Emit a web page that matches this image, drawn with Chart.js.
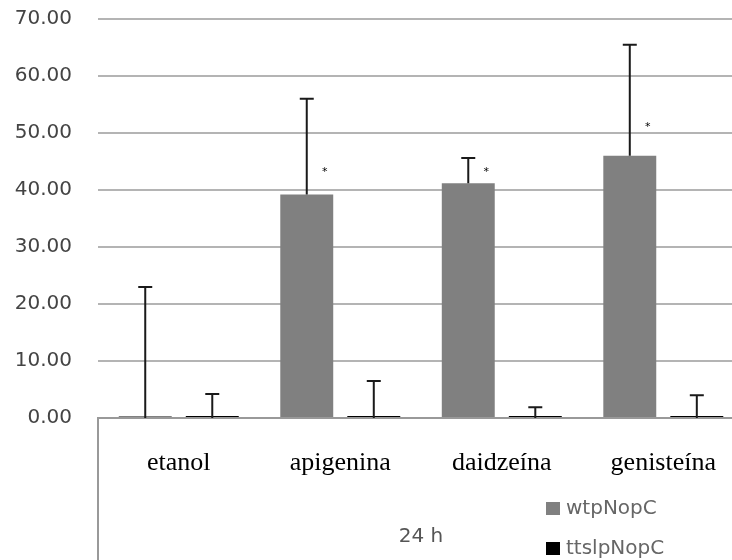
<!DOCTYPE html>
<html>
<head>
<meta charset="utf-8">
<script src="https://cdn.jsdelivr.net/npm/chart.js@4.4.1/dist/chart.umd.min.js"></script>
<style>
    body { margin: 0; overflow: hidden; background: #fff; }
    #box { width: 746px; height: 560px; }
</style>
</head>
<body>
<div id="box"><canvas id="grafico"></canvas></div>
<script>
let categorias = ["etanol", "apigenina", "daidzeína", "genisteína"];
let nomesSeries = ["wtpNopC", "ttslpNopC"];
let wtMedia = [0, 39.2, 41.2, 46.0];
let wtErro = [23.0, 16.8, 4.4, 19.5];
let ttsMedia = [0, 0, 0, 0];
let ttsErro = [4.2, 6.5, 1.9, 4.0];
let marcas = [null, 43.5, 43.5, 51.4];
let yTicks = [0, 10, 20, 30, 40, 50, 60, 70];
let tituloX = "24 h";

let coresSeries = ["#808080", "#000000"];

// fundo branco atras das marcas de significancia
const fundoMarcas = {
    id: "fundoMarcas",
    beforeDatasetsDraw(chart) {
        let ctx = chart.ctx;
        let y = chart.scales.y;
        let meta = chart.getDatasetMeta(0);
        ctx.save();
        ctx.fillStyle = "#fff";
        marcas.forEach((v, j) => {
            if (v == null) return;
            let px = meta.data[j].x + 18;
            let py = y.getPixelForValue(v);
            ctx.fillRect(px - 9, py - 7, 18, 14);
        });
        ctx.restore();
    }
};

const barrasErro = {
    id: "barrasErro",
    afterDatasetsDraw(chart) {
        let ctx = chart.ctx;
        let y = chart.scales.y;
        ctx.save();
        ctx.strokeStyle = "#1a1a1a";
        ctx.lineWidth = 2;
        chart.data.datasets.forEach((ds, i) => {
            let meta = chart.getDatasetMeta(i);
            meta.data.forEach((bar, j) => {
                let base = y.getPixelForValue(ds.data[j]);
                let topo = y.getPixelForValue(ds.data[j] + ds.erros[j]);
                ctx.beginPath();
                ctx.moveTo(bar.x, base);
                ctx.lineTo(bar.x, topo);
                ctx.moveTo(bar.x - 7, topo);
                ctx.lineTo(bar.x + 7, topo);
                ctx.stroke();
            });
        });
        // marcas
        let meta = chart.getDatasetMeta(0);
        ctx.fillStyle = "#000";
        ctx.font = "11px 'DejaVu Sans'";
        ctx.textAlign = "center";
        ctx.textBaseline = "middle";
        marcas.forEach((v, j) => {
            if (v == null) return;
            ctx.fillText("*", meta.data[j].x + 18, y.getPixelForValue(v) + 2);
        });
        ctx.restore();
    }
};

const legendaExcel = {
    id: "legendaExcel",
    afterDraw(chart) {
        let ctx = chart.ctx;
        let area = chart.chartArea;
        ctx.save();
        // linha vertical do eixo de categorias
        ctx.strokeStyle = "#999";
        ctx.lineWidth = 2;
        ctx.beginPath();
        ctx.moveTo(area.left, area.bottom);
        ctx.lineTo(area.left, chart.height);
        ctx.stroke();

        ctx.font = "20px 'DejaVu Sans'";
        ctx.textBaseline = "middle";
        ctx.textAlign = "left";
        chart.data.datasets.forEach((ds, i) => {
            let yy = 509 + i * 40;
            ctx.fillStyle = ds.backgroundColor;
            ctx.fillRect(546, yy - 7, 14, 13);
            ctx.fillStyle = "#666";
            ctx.fillText(ds.label, 566, yy);
        });
        ctx.restore();
    }
};

window.onload = () => {
    new Chart("grafico", {
        type: "bar",
        data: {
            labels: categorias,
            datasets: [
                { label: nomesSeries[0], data: wtMedia, erros: wtErro, backgroundColor: coresSeries[0] },
                { label: nomesSeries[1], data: ttsMedia, erros: ttsErro, backgroundColor: coresSeries[1] }
            ]
        },
        options: {
            responsive: true,
            maintainAspectRatio: false,
            animation: false,
            layout: { padding: { top: 19, right: 0, bottom: 0, left: 0 } },
            datasets: {
                bar: { categoryPercentage: 0.83, barPercentage: 0.79, minBarLength: 2 }
            },
            plugins: {
                legend: { display: false },
                tooltip: { enabled: false }
            },
            scales: {
                x: {
                    grid: { display: false, drawTicks: false },
                    border: { display: true, color: "#999", width: 2 },
                    ticks: { color: "#000", padding: 30, maxRotation: 0, font: { family: "'Liberation Serif'", size: 26 } },
                    title: { display: true, text: tituloX, color: "#555", font: { family: "'DejaVu Sans'", size: 20 }, padding: { top: 0, bottom: 11 } },
                    afterFit: (scale) => { scale.height = 142; }
                },
                y: {
                    min: 0,
                    max: 70,
                    afterBuildTicks: (scale) => { scale.ticks = yTicks.map(v => ({ value: v })); },
                    grid: { color: "#b4b4b4", lineWidth: 2, drawTicks: false },
                    border: { display: false },
                    ticks: { color: "#444", padding: 26, font: { family: "'DejaVu Sans'", size: 20 }, callback: (v) => v.toFixed(2) },
                    afterFit: (scale) => {
                        scale.width = 98;
                        scale.paddingTop = 0;
                        scale.paddingBottom = 0;
                    }
                }
            }
        },
        plugins: [fundoMarcas, barrasErro, legendaExcel]
    });
};
</script>
</body>
</html>
